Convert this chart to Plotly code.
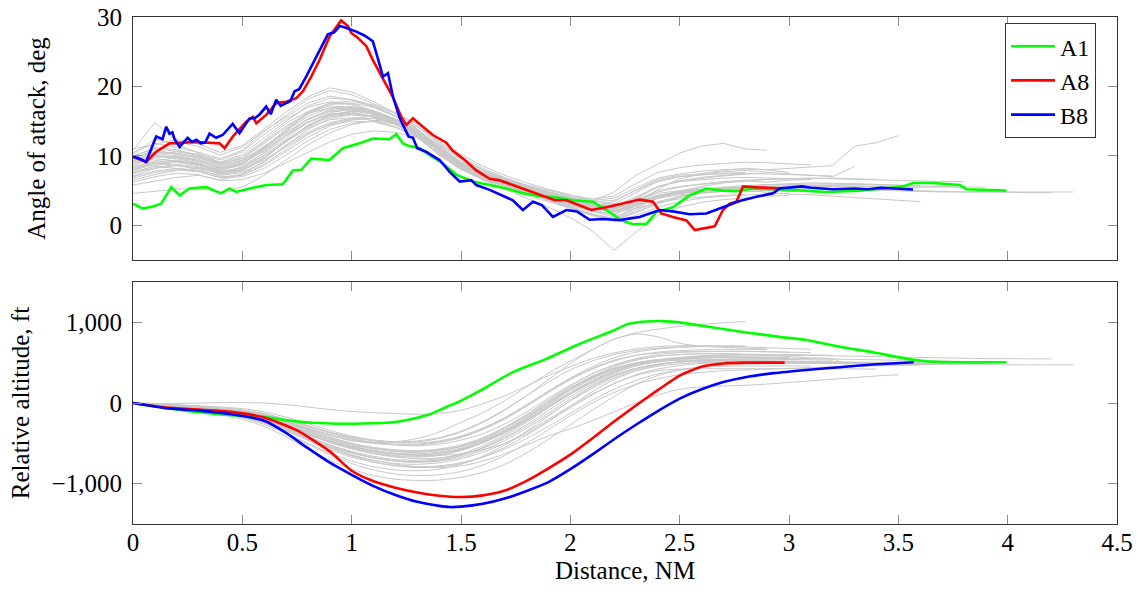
import plotly.graph_objects as go

# ---------------- data ----------------
STEP = 0.1  # sampling step (NM) of the grey reference flights

# Highlighted flights, angle of attack (deg)
A1_AOA_X = [0, 0.045, 0.09, 0.129, 0.175, 0.213, 0.258, 0.335, 0.403, 0.441, 0.472, 0.533, 0.609, 0.685, 0.731, 0.77,
            0.815, 0.899, 0.96, 1.036, 1.097, 1.173, 1.204, 1.234, 1.265, 1.311, 1.357, 1.417, 1.478, 1.554, 1.631,
            1.707, 1.783, 1.86, 1.936, 2.012, 2.103, 2.165, 2.233, 2.286, 2.348, 2.393, 2.469, 2.546, 2.622, 2.698,
            2.759, 2.835, 2.927, 3.018, 3.171, 3.324, 3.476, 3.522, 3.567, 3.659, 3.735, 3.781, 3.812, 3.903, 3.995]
A1_AOA_Y = [3.1, 2.4, 2.7, 3.1, 5.5, 4.3, 5.3, 5.5, 4.6, 5.3, 4.8, 5.3, 5.8, 5.9, 7.9, 8.0,
            9.6, 9.4, 11.1, 11.8, 12.5, 12.4, 13.15, 11.8, 11.4, 11.1, 10.1, 8.9, 7.3, 6.3, 5.8,
            5.3, 4.6, 4.2, 4.0, 3.6, 3.4, 2.2, 0.7, 0.15, 0.2, 1.9, 2.6, 4.3, 5.3, 5.0,
            4.9, 5.3, 5.2, 5.1, 4.8, 5.0, 5.45, 5.6, 6.1, 6.1, 5.9, 5.8, 5.2, 5.1, 5.0]

A8_AOA_X = [0, 0.06, 0.106, 0.167, 0.289, 0.396, 0.419, 0.457, 0.518, 0.548, 0.564, 0.609, 0.655, 0.701, 0.747, 0.777,
            0.815, 0.853, 0.899, 0.952, 0.983, 0.998, 1.028, 1.067, 1.097, 1.188, 1.227, 1.25, 1.28, 1.326, 1.371,
            1.433, 1.46, 1.51, 1.57, 1.631, 1.676, 1.737, 1.799, 1.86, 1.929, 1.982, 2.043, 2.096, 2.165, 2.241,
            2.317, 2.378, 2.416, 2.469, 2.531, 2.569, 2.622, 2.66, 2.698, 2.729, 2.759, 2.79, 2.866, 2.942, 2.965]
A8_AOA_Y = [9.9, 9.1, 10.6, 11.8, 12.0, 11.8, 11.1, 12.8, 14.9, 15.6, 14.7, 15.9, 17.6, 17.8, 18.3, 19.3,
            21.4, 23.8, 27.2, 29.5, 28.7, 27.7, 27.0, 25.8, 23.8, 18.5, 15.6, 14.45, 15.4, 14.2, 13.0,
            11.9, 10.8, 9.6, 7.9, 6.7, 6.5, 5.8, 5.1, 4.3, 3.6, 3.6, 2.9, 2.2, 2.6, 3.1,
            3.7, 3.4, 1.7, 1.2, 0.7, -0.7, -0.4, -0.15, 2.2, 3.1, 3.4, 5.6, 5.45, 5.3, 5.3]

B8_AOA_X = [0, 0.03, 0.06, 0.106, 0.135, 0.152, 0.167, 0.18, 0.19, 0.213, 0.25, 0.27, 0.29, 0.31, 0.33, 0.35,
            0.38, 0.41, 0.456, 0.487, 0.533, 0.56, 0.58, 0.609, 0.63, 0.655, 0.675, 0.70, 0.72, 0.739, 0.76,
            0.792, 0.838, 0.891, 0.92, 0.945, 0.97, 1.021, 1.06, 1.097, 1.12, 1.143, 1.166, 1.19, 1.22, 1.26,
            1.28, 1.30, 1.34, 1.402, 1.448, 1.494, 1.547, 1.57, 1.631, 1.692, 1.737, 1.783, 1.829, 1.87, 1.92,
            1.982, 2.03, 2.088, 2.15, 2.225, 2.317, 2.408, 2.469, 2.546, 2.622, 2.698, 2.774, 2.851, 2.927,
            2.957, 3.0, 3.06, 3.1, 3.2, 3.3, 3.36, 3.42, 3.5, 3.567]
B8_AOA_Y = [9.9, 9.6, 9.15, 12.8, 12.4, 14.2, 13.2, 13.4, 12.4, 11.3, 12.6, 12.0, 12.3, 11.8, 11.9, 13.2,
            12.6, 13.0, 14.6, 13.25, 15.4, 15.5, 16.0, 17.1, 16.0, 18.1, 17.2, 17.6, 17.9, 19.3, 19.6,
            21.4, 24.3, 27.5, 27.8, 28.7, 28.5, 27.9, 27.3, 26.5, 24.0, 21.4, 21.9, 18.4, 15.4, 12.8,
            12.6, 11.1, 10.6, 9.4, 7.7, 6.3, 6.5, 5.8, 5.1, 4.3, 3.6, 2.2, 3.4, 2.9, 1.2,
            2.2, 2.0, 0.8, 0.9, 0.75, 1.2, 2.2, 2.0, 1.6, 1.7, 2.6, 3.5, 4.1, 4.6,
            5.3, 5.4, 5.6, 5.4, 5.2, 5.3, 5.2, 5.4, 5.3, 5.15]

# Highlighted flights, relative altitude (ft)
A1_ALT_X = [0, 0.15, 0.29, 0.45, 0.594, 0.75, 0.9, 1.05, 1.2, 1.28, 1.357, 1.433, 1.494, 1.585, 1.737, 1.89, 2.042,
            2.195, 2.263, 2.347, 2.423, 2.5, 2.652, 2.805, 2.957, 3.08, 3.232, 3.385, 3.54, 3.628, 3.77, 3.995]
A1_ALT_Y = [0, -60, -111, -150, -172, -230, -254, -255, -235, -195, -140, -50, 20, 150, 382, 547, 732,
            896, 978, 1010, 1015, 1000, 937, 875, 820, 781, 698, 629, 547, 517, 505, 505]

A8_ALT_X = [0, 0.15, 0.3, 0.45, 0.6, 0.75, 0.9, 1.0, 1.1, 1.2, 1.3, 1.4, 1.5, 1.6, 1.7, 1.8, 1.9, 2.0, 2.1, 2.2,
            2.3, 2.4, 2.5, 2.6, 2.7, 2.8, 2.98]
A8_ALT_Y = [0, -57, -82, -110, -180, -340, -600, -840, -970, -1050, -1110, -1150, -1165, -1145, -1085, -965, -810,
            -640, -440, -230, -30, 160, 340, 450, 490, 500, 500]

B8_ALT_X = [0, 0.15, 0.3, 0.45, 0.6, 0.7, 0.8, 0.9, 1.0, 1.1, 1.2, 1.3, 1.4, 1.45, 1.5, 1.6, 1.7, 1.8, 1.9, 2.0,
            2.1, 2.2, 2.3, 2.4, 2.5, 2.6, 2.7, 2.8, 2.93, 3.08, 3.232, 3.385, 3.57]
B8_ALT_Y = [0, -65, -95, -140, -220, -370, -560, -740, -890, -1030, -1140, -1225, -1275, -1290, -1285, -1250,
            -1185, -1090, -980, -820, -640, -450, -270, -100, 54, 170, 260, 320, 370, 410, 444, 477, 505]

# Grey reference flights, angle of attack (deg), one value every STEP NM from 0
AOA_G01 = [10.5, 11.8, 11.2, 10.5, 9.6, 10.8, 13.5, 15.8, 18.2, 19.4, 18.8, 17.5, 16.2, 14.6, 12.1, 9.8, 8.2, 6.9,
           5.8, 4.6, 3.7, 3.0, 2.4, 3.8, 5.6, 6.4, 6.8, 7.1, 7.4]
AOA_G02 = [9.2, 10.1, 9.8, 9.4, 8.1, 8.6, 10.4, 12.6, 14.8, 16.2, 16.8, 16.1, 15.2, 13.6, 11.0, 8.7, 7.3, 6.2,
           5.1, 4.4, 3.6, 2.7, 1.9, 2.8, 4.1, 4.9, 5.4, 5.2, 5.6, 5.9]
AOA_G03 = [5.8, 6.4, 6.9, 7.2, 6.5, 7.4, 9.2, 11.6, 13.4, 14.8, 15.4, 15.7, 15.0, 13.8, 11.4, 9.1, 7.6, 6.4,
           5.5, 4.7, 3.9, 3.1, 2.6, 3.3, 4.2, 4.6, 4.9, 5.1, 4.8, 5.0, 5.2]
AOA_G04 = [8.8, 10.3, 10.6, 10.1, 8.9, 9.6, 11.8, 14.1, 16.3, 17.2, 17.0, 16.2, 14.9, 13.1, 10.6, 8.5, 7.0, 6.0,
           4.9, 4.0, 3.1, 2.2, 1.5, 3.0, 5.2, 6.7, 7.4, 7.9, 8.2, 8.0, 7.6]
AOA_G05 = [10.2, 12.4, 11.6, 10.4, 9.0, 9.9, 12.2, 14.7, 16.4, 17.6, 17.4, 16.4, 15.3, 13.3, 10.8, 8.8, 7.4, 6.1,
           5.3, 4.5, 3.6, 2.9, 2.2, 3.6, 4.8, 5.5, 5.9, 6.2, 6.4, 6.2, 6.5, 6.6]
AOA_G06 = [7.4, 8.6, 9.1, 8.6, 7.3, 7.8, 9.6, 12.1, 14.3, 15.8, 16.1, 15.6, 14.7, 13.0, 10.9, 8.6, 7.1, 5.9,
           4.8, 3.7, 2.6, 1.5, 0.7, 1.8, 3.1, 4.0, 4.6, 4.9, 5.2, 5.4, 5.5, 5.7, 5.8]
AOA_G07 = [9.6, 10.9, 10.2, 9.7, 8.6, 9.4, 11.4, 13.4, 15.2, 16.4, 16.6, 16.0, 14.8, 12.9, 10.3, 8.2, 6.8, 5.7,
           4.6, 3.8, 3.2, 2.8, 3.4, 5.1, 6.6, 7.2, 7.5, 7.7, 7.9, 7.6, 7.4, 7.2, 7.0, 8.5]
AOA_G08 = [8.1, 9.0, 8.6, 8.3, 7.6, 8.4, 10.1, 12.3, 14.2, 15.6, 16.0, 15.8, 14.9, 13.4, 11.2, 9.0, 7.5, 6.4,
           5.6, 4.8, 4.1, 3.6, 3.9, 5.4, 6.8, 7.4, 7.8, 8.0, 8.1, 8.0, 8.2, 8.3, 8.6, 11.4, 11.9, 12.9]
AOA_G09 = [6.8, 7.6, 8.0, 7.7, 6.9, 7.3, 8.8, 10.9, 13.1, 14.6, 15.3, 15.4, 14.6, 13.2, 11.0, 8.9, 7.2, 6.0,
           4.9, 3.9, 2.8, 1.6, 0.9, 2.1, 3.4, 4.2, 4.7, 5.0, 5.3, 5.4, 5.5, 5.5, 5.6, 5.6, 5.5, 5.4, 5.4]
AOA_G10 = [9.9, 11.2, 10.9, 10.0, 8.8, 9.7, 12.0, 14.3, 16.1, 16.9, 16.7, 16.0, 14.8, 12.8, 10.1, 8.0, 6.6, 5.6,
           4.6, 3.7, 2.9, 2.0, 1.6, 2.7, 3.9, 4.4, 4.7, 4.9, 5.0, 4.7, 4.5, 4.4, 4.2, 4.0, 3.7, 3.5, 3.4]
AOA_G11 = [8.4, 9.3, 9.7, 9.2, 8.3, 9.0, 10.7, 12.9, 14.9, 16.0, 16.3, 15.7, 14.5, 12.7, 10.3, 8.3, 6.9, 5.9,
           5.0, 4.2, 3.4, 2.6, 2.3, 3.7, 5.0, 5.6, 6.0, 6.3, 6.5, 6.6, 6.7, 6.8, 6.7, 6.6, 6.5, 6.5, 6.4, 6.3, 6.3]
AOA_G12 = [7.9, 8.8, 9.3, 8.9, 7.8, 8.2, 10.0, 12.2, 14.4, 15.8, 16.5, 16.2, 15.3, 13.6, 11.1, 8.9, 7.3, 6.1,
           5.2, 4.3, 3.5, 2.8, 2.4, 3.2, 4.3, 4.8, 5.1, 5.4, 5.6, 5.8, 5.9, 6.0, 6.0, 5.9, 5.8, 5.8, 5.7, 5.6,
           5.5, 5.5]
AOA_G13 = [9.3, 10.4, 10.0, 9.5, 8.4, 9.2, 11.1, 13.3, 15.3, 16.5, 16.8, 16.4, 15.1, 13.3, 10.8, 8.6, 7.0, 5.8,
           4.9, 4.0, 3.3, 2.7, 2.6, 3.6, 4.6, 5.0, 5.2, 5.4, 5.5, 5.5, 5.5, 5.4, 5.3, 5.2, 5.1, 5.0, 4.9, 4.9,
           4.8, 4.8, 4.7, 4.7, 4.7]
AOA_G14 = [8.9, 9.6, 9.2, 8.8, 7.9, 8.8, 10.9, 13.0, 14.8, 16.0, 16.1, 15.6, 14.6, 13.0, 10.6, 8.4, 6.8, 5.7,
           4.7, 3.9, 3.1, 2.4, 2.1, 3.2, 4.3, 4.9, 5.2, 5.4, 5.5, 5.5, 5.4, 5.3, 5.2, 5.1, 5.0, 4.9, 4.9, 4.8,
           4.8, 4.8, 4.8, 4.8, 4.8, 4.8]
AOA_G15 = [6.2, 7.0, 7.5, 7.3, 6.4, 6.6, 7.5, 9.0, 10.6, 12.0, 13.1, 13.6, 13.4, 12.6, 10.9, 9.1, 7.7, 6.6,
           5.6, 4.7, 3.8, 2.8, 1.9, 2.4, 3.3, 3.8, 4.1, 4.3, 4.4]
AOA_G16 = [10.8, 14.8, 12.1, 11.3, 10.1, 11.3, 13.6, 15.6, 17.6, 18.6, 18.1, 17.0, 15.7, 13.8, 11.3, 9.1, 7.6,
           6.5, 5.5, 4.6, 3.9, 3.5, 4.8, 7.2, 8.8, 10.4, 11.4, 11.8, 11.0, 10.8]
AOA_G17 = [7.1, 8.2, 8.6, 8.1, 7.0, 7.2, 8.6, 10.6, 12.7, 14.3, 15.2, 15.4, 14.7, 13.1, 10.7, 8.4, 6.6, 5.2,
           3.9, 2.6, 1.1, -0.8, -3.6, -1.0, 1.4, 2.6, 3.3, 3.7, 4.0, 4.2, 4.3]
AOA_G18 = [9.4, 10.5, 10.3, 9.9, 9.1, 10.2, 12.6, 15.0, 17.2, 18.3, 18.1, 17.3, 16.1, 14.3, 11.9, 9.6, 8.0, 6.8,
           5.8, 5.0, 4.3, 3.8, 4.2, 6.0, 7.6, 8.3, 8.7, 8.9, 9.1, 9.0, 8.8, 8.7]
AOA_G19 = [4.6, 4.9, 5.2, 5.3, 4.8, 5.5, 7.2, 9.4, 11.6, 13.3, 14.5, 15.1, 15.0, 14.2, 12.4, 10.2, 8.5, 7.2,
           6.1, 5.2, 4.4, 3.6, 3.0, 3.5, 4.3, 4.7, 4.9, 5.0, 5.1, 5.0, 4.9, 4.8, 4.7]
AOA_G20 = [8.6, 9.8, 9.9, 9.3, 8.2, 8.9, 11.0, 13.7, 16.0, 17.4, 17.6, 17.0, 15.7, 13.9, 11.3, 9.0, 7.2, 5.9,
           4.8, 3.8, 2.9, 2.0, 1.2, 2.5, 4.0, 4.9, 5.6, 6.1, 6.4, 6.6, 6.7, 6.8, 6.8, 6.7, 6.6]
AOA_G21 = [11.0, 11.6, 12.4, 11.7, 10.5, 11.5, 13.9, 16.3, 18.5, 19.8, 19.2, 17.8, 16.2, 14.2, 11.7, 9.4, 7.7,
           6.5, 5.5, 4.6, 3.8, 3.0, 2.5, 3.9, 5.5, 6.4, 6.9, 7.2, 7.4, 7.5]
AOA_G22 = [7.7, 8.5, 8.2, 7.9, 7.2, 7.6, 9.1, 11.4, 13.8, 15.4, 15.9, 15.6, 14.6, 13.0, 10.8, 8.7, 7.1, 5.9,
           4.7, 3.5, 2.4, 1.4, 0.6, 1.4, 2.6, 3.4, 3.9, 4.2, 4.4, 4.5, 4.6]
AOA_G23 = [8.3, 9.1, 9.4, 8.8, 7.7, 8.0, 9.8, 12.0, 14.0, 15.2, 15.5, 15.1, 14.2, 12.6, 10.2, 8.1, 6.7, 5.6,
           4.6, 3.7, 3.0, 2.3, 2.0, 3.0, 4.2, 4.8, 5.1, 5.3, 5.4, 5.5, 5.5]
AOA_G24 = [6.5, 7.3, 7.9, 8.2, 7.5, 8.0, 9.4, 11.3, 13.2, 14.5, 15.0, 14.9, 14.1, 12.8, 10.8, 8.7, 7.3, 6.2,
           5.3, 4.4, 3.6, 2.9, 2.7, 4.1, 5.6, 6.3, 6.6, 6.8, 6.9, 6.8, 6.7, 6.6]
AOA_G25 = [9.1, 10.0, 9.6, 9.0, 8.0, 8.9, 11.2, 13.8, 16.2, 17.6, 17.9, 17.2, 15.8, 13.8, 11.1, 8.8, 7.0, 5.7,
           4.6, 3.6, 2.6, 1.6, 0.8, 1.9, 3.2, 4.1, 4.7, 5.1, 5.4, 5.6, 5.7, 5.8, 5.8, 5.9]
AOA_G26 = [10.0, 11.0, 10.7, 10.2, 9.4, 10.6, 13.1, 15.3, 17.0, 17.8, 17.5, 16.5, 15.3, 13.6, 11.2, 9.0, 7.5,
           6.3, 5.3, 4.5, 3.8, 3.4, 3.6, 5.0, 6.4, 7.0, 7.3, 7.5, 7.6]
AOA_G27 = [7.0, 7.8, 8.2, 7.8, 6.8, 7.0, 8.2, 10.1, 12.2, 13.8, 14.7, 15.0, 14.6, 13.5, 11.6, 9.5, 7.9, 6.7,
           5.7, 4.8, 4.0, 3.2, 2.6, 3.2, 4.2, 4.8, 5.2, 5.5, 5.7, 5.9, 6.0, 6.1, 6.1, 6.0, 5.9, 5.8, 5.7]
AOA_G28 = [8.0, 8.9, 9.2, 8.7, 7.6, 8.3, 10.5, 13.0, 15.3, 16.7, 17.0, 16.4, 15.1, 13.2, 10.5, 8.2, 6.5, 5.3,
           4.3, 3.4, 2.5, 1.6, 1.0, 2.4, 3.9, 4.7, 5.1, 5.3, 5.4, 5.5]
AOA_G29 = [9.7, 10.6, 10.4, 9.8, 8.7, 9.3, 11.3, 13.6, 15.7, 16.9, 17.1, 16.5, 15.3, 13.5, 10.9, 8.7, 7.1, 5.9,
           4.9, 4.1, 3.4, 2.9, 3.1, 4.7, 6.3, 7.0, 7.3, 7.4, 7.5, 7.4, 7.3, 7.2, 7.1]
AOA_G30 = [7.5, 8.3, 8.8, 8.4, 7.4, 7.9, 9.7, 12.0, 14.4, 15.9, 16.4, 16.1, 15.1, 13.4, 11.0, 8.8, 7.2, 6.0,
           5.0, 4.1, 3.3, 2.5, 2.1, 2.9, 4.0, 4.6, 5.0, 5.3, 5.5, 5.6, 5.7, 5.7, 5.7, 5.7, 5.6, 5.6, 5.5, 5.5, 5.5]

# Grey reference flights, relative altitude (ft), one value every STEP NM from 0
ALT_G01 = [0, -15, -35, -55, -75, -95, -140, -210, -290, -370, -430, -470, -490, -480, -440, -360, -240, -90,
           90, 290, 490, 660, 790, 870, 915, 950, 975, 995, 1010]
ALT_G02 = [0, -20, -40, -60, -80, -100, -150, -230, -320, -400, -470, -490, -480, -440, -360, -240, -120, 30,
           200, 370, 520, 660, 790, 855, 820, 740, 705, 690, 680, 670]
ALT_G03 = [0, -25, -50, -75, -105, -140, -200, -290, -390, -480, -560, -620, -660, -670, -650, -590, -490, -350,
           -180, 0, 170, 310, 420, 490, 530, 550, 560, 565, 565, 560, 555]
ALT_G04 = [0, -30, -60, -90, -125, -170, -250, -370, -500, -620, -720, -790, -830, -840, -820, -760, -660, -520,
           -350, -160, 30, 200, 330, 420, 480, 510, 530, 540, 545, 545, 540]
ALT_G05 = [0, -5, -5, 0, 5, 5, 0, -20, -50, -80, -105, -120, -130, -140, -130, -90, -10, 90, 210, 340, 450, 550,
           620, 670, 700, 710, 710, 705, 695, 685, 675, 665]
ALT_G06 = [0, -20, -45, -70, -100, -135, -190, -270, -360, -450, -530, -590, -630, -650, -650, -630, -580, -500,
           -380, -220, -40, 140, 290, 400, 470, 510, 530, 540, 545, 545, 540, 535, 530]
ALT_G07 = [0, -15, -35, -60, -90, -130, -190, -280, -380, -470, -540, -590, -620, -630, -610, -560, -470, -340,
           -180, 0, 180, 330, 450, 530, 580, 600, 610, 610, 600, 590, 575, 560, 545, 420]
ALT_G08 = [0, -25, -55, -85, -120, -165, -235, -330, -440, -550, -640, -710, -760, -790, -800, -780, -720, -630,
           -520, -410, -320, -220, -110, 0, 100, 170, 200, 210, 220, 235, 255, 275, 295, 315, 335, 350]
ALT_G09 = [0, -20, -40, -65, -95, -130, -185, -265, -360, -450, -520, -570, -600, -610, -590, -540, -450, -320,
           -160, 20, 190, 330, 430, 490, 520, 530, 530, 525, 520, 515, 510, 505, 500, 495, 490, 485, 480]
ALT_G10 = [0, -30, -60, -95, -135, -185, -265, -380, -510, -640, -750, -830, -880, -900, -890, -850, -770, -650,
           -500, -330, -160, 0, 130, 230, 300, 350, 380, 400, 410, 420, 430, 440, 450, 455, 460, 465, 470]
ALT_G11 = [0, -20, -45, -70, -100, -140, -200, -290, -390, -480, -550, -600, -630, -640, -620, -570, -480, -350,
           -190, -10, 170, 320, 430, 500, 540, 560, 570, 570, 565, 560, 555, 550, 545, 540, 535, 530, 525, 520,
           515]
ALT_G12 = [0, -35, -70, -105, -145, -200, -290, -420, -570, -710, -820, -900, -945, -960, -955, -920, -860, -760,
           -620, -450, -270, -90, 80, 230, 340, 410, 450, 470, 480, 485, 490, 490, 490, 490, 490, 490, 490, 490,
           490, 490]
ALT_G13 = [0, -15, -35, -55, -80, -115, -170, -250, -340, -430, -500, -550, -580, -590, -570, -520, -430, -300,
           -140, 40, 210, 360, 470, 540, 580, 600, 610, 610, 605, 600, 595, 590, 585, 580, 575, 570, 565, 560,
           555, 550, 550, 548, 548]
ALT_G14 = [0, -20, -45, -70, -100, -140, -200, -290, -390, -490, -570, -630, -670, -690, -680, -640, -560, -440,
           -290, -120, 50, 210, 340, 430, 480, 510, 520, 520, 515, 510, 505, 500, 495, 490, 485, 480, 478, 476,
           475, 474, 473, 473, 473, 473]
ALT_G15 = [0, -10, -25, -40, -60, -85, -130, -200, -280, -360, -420, -460, -480, -470, -430, -350, -230, -80, 90,
           260, 410, 520, 600, 650, 680, 695, 700, 705, 705]
ALT_G16 = [0, -25, -50, -80, -115, -160, -230, -330, -440, -540, -620, -680, -720, -730, -710, -650, -550, -410,
           -240, -60, 110, 260, 380, 460, 510, 540, 555, 560, 560, 560]
ALT_G17 = [0, -15, -30, -50, -75, -105, -155, -225, -310, -390, -450, -490, -510, -510, -480, -420, -320, -190,
           -30, 140, 300, 430, 530, 590, 620, 635, 640, 640, 640, 635, 630]
ALT_G18 = [0, -25, -55, -85, -120, -165, -240, -345, -465, -580, -670, -735, -775, -790, -780, -740, -670, -570,
           -440, -290, -130, 30, 170, 280, 360, 410, 440, 455, 460, 460, 460, 460]
ALT_G19 = [0, -20, -40, -60, -85, -115, -165, -240, -330, -420, -500, -560, -600, -610, -590, -540, -460, -350,
           -210, -50, 110, 250, 370, 460, 520, 560, 580, 590, 595, 595, 595, 590, 590]
ALT_G20 = [0, -30, -60, -90, -125, -170, -240, -340, -450, -560, -650, -710, -750, -760, -740, -690, -610, -500,
           -360, -200, -40, 110, 240, 340, 400, 420, 425, 425, 425, 425, 425, 425, 425, 422, 420]
ALT_G21 = [0, -15, -35, -55, -80, -110, -160, -235, -320, -400, -460, -500, -520, -520, -490, -430, -330, -200,
           -40, 130, 290, 420, 520, 590, 630, 650, 660, 665, 665, 660]
ALT_G22 = [0, -20, -45, -75, -110, -150, -215, -310, -420, -520, -600, -660, -700, -710, -690, -630, -530, -390,
           -220, -40, 130, 280, 400, 480, 530, 555, 565, 570, 570, 570, 565]
ALT_G23 = [0, -20, -45, -70, -100, -135, -195, -285, -385, -480, -560, -615, -650, -660, -640, -585, -495, -365,
           -205, -25, 150, 300, 415, 490, 535, 555, 565, 570, 570, 565, 560]
ALT_G24 = [0, -15, -30, -50, -70, -95, -140, -210, -290, -370, -440, -490, -520, -530, -510, -460, -380, -260,
           -110, 60, 220, 360, 470, 550, 600, 625, 635, 640, 640, 635, 630, 625]
ALT_G25 = [0, -25, -50, -80, -115, -155, -225, -325, -440, -555, -655, -730, -780, -800, -790, -750, -670, -550,
           -400, -230, -60, 100, 240, 350, 420, 465, 490, 500, 505, 505, 505, 505, 505, 505]
ALT_G26 = [0, -10, -20, -35, -50, -70, -110, -175, -255, -340, -410, -460, -490, -495, -470, -410, -310, -180,
           -20, 150, 310, 450, 560, 630, 670, 690, 700, 705, 705]
ALT_G27 = [0, -20, -40, -65, -90, -125, -180, -260, -350, -440, -510, -560, -590, -600, -580, -530, -440, -310,
           -150, 20, 180, 320, 420, 480, 515, 530, 535, 535, 530, 525, 520, 515, 510, 505, 500, 500, 500]
ALT_G28 = [0, -25, -50, -75, -105, -145, -210, -305, -415, -520, -610, -675, -715, -725, -705, -650, -560, -430,
           -270, -90, 80, 230, 350, 430, 480, 505, 515, 520, 520, 520]
ALT_G29 = [0, -20, -40, -65, -95, -130, -190, -275, -375, -470, -545, -600, -635, -645, -625, -575, -490, -370,
           -220, -50, 120, 270, 390, 475, 530, 565, 585, 595, 600, 600, 600, 595, 590]
ALT_G30 = [0, -25, -50, -80, -110, -150, -215, -310, -420, -525, -615, -680, -720, -735, -720, -670, -585, -465,
           -315, -145, 25, 180, 310, 400, 455, 485, 500, 505, 505, 505, 505, 505, 505, 505, 505, 505, 505, 505, 505]

GREY_AOA = [AOA_G01, AOA_G02, AOA_G03, AOA_G04, AOA_G05, AOA_G06, AOA_G07, AOA_G08, AOA_G09, AOA_G10,
            AOA_G11, AOA_G12, AOA_G13, AOA_G14, AOA_G15, AOA_G16, AOA_G17, AOA_G18, AOA_G19, AOA_G20,
            AOA_G21, AOA_G22, AOA_G23, AOA_G24, AOA_G25, AOA_G26, AOA_G27, AOA_G28, AOA_G29, AOA_G30]
GREY_ALT = [ALT_G01, ALT_G02, ALT_G03, ALT_G04, ALT_G05, ALT_G06, ALT_G07, ALT_G08, ALT_G09, ALT_G10,
            ALT_G11, ALT_G12, ALT_G13, ALT_G14, ALT_G15, ALT_G16, ALT_G17, ALT_G18, ALT_G19, ALT_G20,
            ALT_G21, ALT_G22, ALT_G23, ALT_G24, ALT_G25, ALT_G26, ALT_G27, ALT_G28, ALT_G29, ALT_G30]

SERIES_NAMES = ["A1", "A8", "B8"]
X_TICKS = [0, 0.5, 1, 1.5, 2, 2.5, 3, 3.5, 4, 4.5]
X_TICK_TEXT = ["0", "0.5", "1", "1.5", "2", "2.5", "3", "3.5", "4", "4.5"]
AOA_TICKS = [0, 10, 20, 30]
ALT_TICKS = [-1000, 0, 1000]

# ---------------- styling ----------------
FAMILY = "Liberation Serif"
GREY = "rgb(200,200,200)"
COLORS = {"A1": "#00ff00", "A8": "#ff0000", "B8": "#0000ff"}
LW = 2.6
F25 = dict(family=FAMILY, size=25, color="black")


def grid(vals):
    return [round(i * STEP, 3) for i in range(len(vals))]


fig = go.Figure()

for vals in GREY_AOA:
    fig.add_trace(go.Scatter(x=grid(vals), y=vals, mode="lines", xaxis="x2", yaxis="y2",
                             line=dict(color=GREY, width=1), showlegend=False, hoverinfo="skip"))
for vals in GREY_ALT:
    fig.add_trace(go.Scatter(x=grid(vals), y=vals, mode="lines", xaxis="x", yaxis="y",
                             line=dict(color=GREY, width=1, shape="spline", smoothing=0.8),
                             showlegend=False, hoverinfo="skip"))

top_series = [(A1_AOA_X, A1_AOA_Y), (A8_AOA_X, A8_AOA_Y), (B8_AOA_X, B8_AOA_Y)]
bot_series = [(A1_ALT_X, A1_ALT_Y), (A8_ALT_X, A8_ALT_Y), (B8_ALT_X, B8_ALT_Y)]

for name, (xs, ys) in zip(SERIES_NAMES, top_series):
    fig.add_trace(go.Scatter(x=xs, y=ys, mode="lines", name=name, xaxis="x2", yaxis="y2",
                             line=dict(color=COLORS[name], width=LW)))
for name, (xs, ys) in zip(SERIES_NAMES, bot_series):
    fig.add_trace(go.Scatter(x=xs, y=ys, mode="lines", name=name, xaxis="x", yaxis="y",
                             line=dict(color=COLORS[name], width=LW, shape="spline", smoothing=0.6),
                             showlegend=False))

axis_common = dict(showline=True, linecolor="#333333", linewidth=1.2, mirror="ticks", ticks="inside",
                   ticklen=9, tickwidth=1, tickcolor="#8c8c8c", showgrid=False, zeroline=False,
                   tickfont=F25)

fig.update_layout(
    template="none",
    width=1138, height=596,
    margin=dict(l=133, r=21, t=17, b=72),
    paper_bgcolor="white", plot_bgcolor="white",
    font=F25,
    xaxis=dict(domain=[0, 1], anchor="y", range=[0, 4.5], tickvals=X_TICKS, ticktext=X_TICK_TEXT,
               title=dict(text="Distance, NM", standoff=6, font=F25), ticklabelstandoff=-4, **axis_common),
    yaxis=dict(domain=[0, 0.4773], anchor="x", range=[-1500, 1500], tickvals=ALT_TICKS, tickformat=",d",
               title=dict(text="Relative altitude, ft", standoff=14, font=F25), ticklabelstandoff=5,
               **axis_common),
    xaxis2=dict(domain=[0, 1], anchor="y2", matches="x", range=[0, 4.5], tickvals=X_TICKS,
                showticklabels=False, **axis_common),
    yaxis2=dict(domain=[0.5207, 1], anchor="x2", range=[-5, 30], tickvals=AOA_TICKS,
                title=dict(text="Angle of attack, deg", standoff=44, font=F25), ticklabelstandoff=5,
                **axis_common),
    legend=dict(x=0.9787, y=0.988, xanchor="right", yanchor="top", bgcolor="white",
                bordercolor="#333333", borderwidth=1,
                font=dict(family="Times New Roman", size=24, color="black"),
                itemwidth=44, tracegroupgap=0),
    showlegend=True,
)

fig.write_html("out.html")
